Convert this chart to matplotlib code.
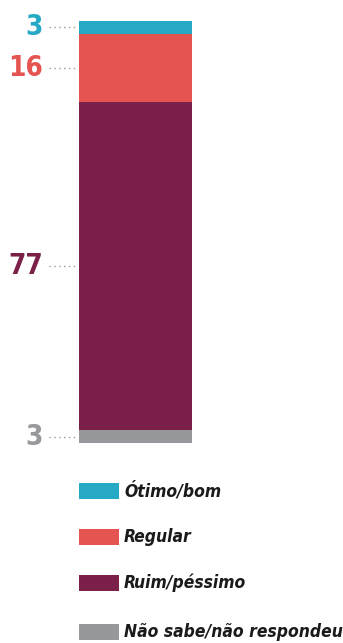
import matplotlib
matplotlib.use("Agg")
import matplotlib.pyplot as plt
from matplotlib.patches import Rectangle
from matplotlib.transforms import blended_transform_factory

# Data (bottom to top)
categories = ["Não sabe/não respondeu", "Ruim/péssimo", "Regular", "Ótimo/bom"]
values = [3, 77, 16, 3]
colors = ["#97989b", "#7b2048", "#e55451", "#26a9c4"]

# Legend order (top to bottom)
legend_order = ["Ótimo/bom", "Regular", "Ruim/péssimo", "Não sabe/não respondeu"]

W, H = 343, 643
font = ["DejaVu Sans"]

fig = plt.figure(figsize=(W / 100, H / 100), dpi=100)

# Bar axes, placed in pixel terms
left, right, top, bottom = 79, 192, 21, 443
ax = fig.add_axes([left / W, 1 - bottom / H, (right - left) / W, (bottom - top) / H])
ax.set_xlim(0, 1)
ax.set_ylim(0, sum(values))
ax.axis("off")

trans = blended_transform_factory(ax.transAxes, ax.transData)
base = 0
for cat, val, col in zip(categories, values, colors):
    ax.bar(0.5, val, width=1, bottom=base, color=col, linewidth=0)
    mid = base + val / 2
    ax.plot([-30 / 113, -0.01], [mid, mid], transform=trans, color="#9a9a9a",
            linestyle=(0, (1, 2.5)), linewidth=1, clip_on=False)
    ax.text(-36 / 113, mid, str(val), transform=trans, ha="right", va="center",
            fontsize=20, fontweight="bold", fontstretch="condensed", color=col,
            family=font)
    base += val

# Legend drawn manually
leg_y = [491, 537, 583, 632]
color_of = dict(zip(categories, colors))
for name, y in zip(legend_order, leg_y):
    fig.patches.append(Rectangle((79 / W, 1 - (y + 8) / H), 40 / W, 16 / H,
                                 transform=fig.transFigure, color=color_of[name],
                                 linewidth=0))
    fig.text(124 / W, 1 - y / H, name, ha="left", va="center", fontsize=12.5,
             fontweight="bold", fontstyle="italic", fontstretch="condensed",
             color="#1a1a1a", family=font)

fig.savefig("out.png", dpi=100)
